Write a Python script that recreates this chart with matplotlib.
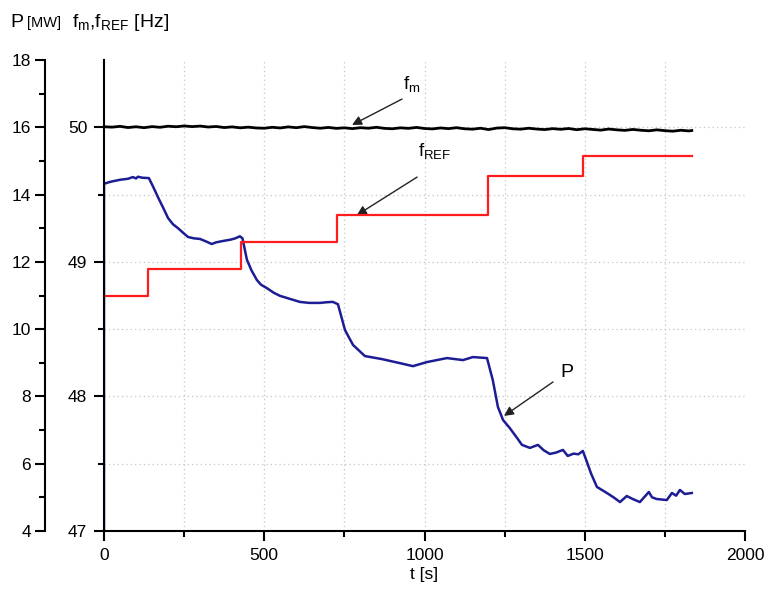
import numpy as np
import matplotlib.pyplot as plt
from matplotlib.ticker import MultipleLocator, FixedLocator

plt.rcParams['font.family'] = ['Liberation Sans', 'DejaVu Sans']
plt.rcParams['mathtext.fontset'] = 'custom'
plt.rcParams['mathtext.rm'] = 'Liberation Sans'

# --- donnees ---
# puissance P [MW]
t_P = [0, 0, 20, 50, 75, 90, 100, 106, 120, 140, 155, 168, 185, 200, 215, 231, 245,
       262, 280, 300, 320, 336, 350, 371, 395, 410, 424, 432, 446, 460, 477, 490,
       508, 530, 549, 580, 611, 640, 674, 695, 714, 730, 752, 777, 814, 867, 923,
       964, 1007, 1070, 1120, 1151, 1195, 1213, 1229, 1245, 1266, 1290, 1304, 1329,
       1354, 1372, 1391, 1410, 1432, 1447, 1465, 1480, 1494, 1505, 1520, 1538, 1569,
       1590, 1610, 1631, 1650, 1672, 1700, 1710, 1725, 1756, 1772, 1785, 1797, 1812,
       1834]
P = [4.0, 14.32, 14.38, 14.44, 14.47, 14.52, 14.48, 14.53, 14.5, 14.49, 14.2, 13.93,
     13.6, 13.3, 13.12, 13.0, 12.88, 12.74, 12.7, 12.68, 12.6, 12.53, 12.58, 12.62,
     12.66, 12.7, 12.76, 12.7, 12.06, 11.75, 11.46, 11.32, 11.22, 11.08, 10.99, 10.9,
     10.81, 10.78, 10.78, 10.8, 10.81, 10.74, 9.97, 9.53, 9.2, 9.11, 8.99, 8.9, 9.02,
     9.14, 9.08, 9.17, 9.14, 8.49, 7.69, 7.3, 7.06, 6.75, 6.56, 6.47, 6.56, 6.4, 6.29,
     6.33, 6.41, 6.23, 6.3, 6.28, 6.38, 6.1, 5.7, 5.31, 5.13, 5.0, 4.86, 5.04, 4.95,
     4.86, 5.16, 5.0, 4.95, 4.92, 5.13, 5.05, 5.22, 5.1, 5.13]

# frequence de reference f_REF [Hz]
t_ref = [0, 136, 428, 727, 1197, 1494, 1834]
f_ref = [48.75, 48.95, 49.15, 49.35, 49.64, 49.79, 49.79]

# frequence mesuree f_m [Hz]
t_fm = list(range(0, 1850, 25)) + [1834]
f_m = [50.004, 50.001, 50.007, 49.998, 50.004, 49.997, 50.005, 50.000, 50.008, 50.004,
       50.010, 50.005, 50.009, 50.002, 50.006, 49.998, 50.003, 49.996, 50.001, 49.995,
       49.993, 50.000, 49.995, 50.003, 49.997, 50.005, 49.998, 49.993, 49.999, 49.992,
       49.996, 49.990, 49.997, 49.993, 50.000, 49.992, 49.989, 49.996, 49.992, 49.999,
       49.991, 49.988, 49.995, 49.990, 49.997, 49.989, 49.986, 49.993, 49.983, 49.994,
       49.997, 49.989, 49.986, 49.993, 49.987, 49.983, 49.990, 49.985, 49.991, 49.982,
       49.989, 49.984, 49.979, 49.987, 49.981, 49.977, 49.984, 49.978, 49.974, 49.981,
       49.975, 49.971, 49.978, 49.973, 49.976]
t_fm = t_fm[:len(f_m)]

# --------------------------------------------------------------------
#       Trace
# --------------------------------------------------------------------
fig = plt.figure(figsize=(7.69, 5.94), dpi=100)
ax = fig.add_axes([104/769, 63/594, 641/769, 471/594])
ax2 = ax.twinx()

# grille pointillee
gx = np.arange(250, 2000, 250)
gy = np.arange(6, 18, 2)
ax.vlines(gx, 4, 18, colors='#c4c4c4', linestyles=(0, (1, 2.5)), lw=0.9, zorder=0)
ax.hlines(gy, 0, 2000, colors='#c4c4c4', linestyles=(0, (1, 2.5)), lw=0.9, zorder=0)

ax.plot(t_P, P, color='#1c1c94', lw=1.8)
ax2.step(t_ref, f_ref, where='post', color='#ff1c1c', lw=1.6)
ax2.plot(t_fm, f_m, color='black', lw=2.0)

ax.set_xlim(0, 2000)
ax.set_ylim(4, 18)
ax2.set_ylim(47, 50.5)

# axe P deporte a gauche (59 px = 42.5 pt)
for s in ['top', 'right']:
    ax.spines[s].set_visible(False)
ax.spines['left'].set_position(('outward', 42.5))
for s in ['top', 'right', 'bottom']:
    ax2.spines[s].set_visible(False)
ax2.spines['left'].set_visible(True)
ax2.yaxis.tick_left()
for sp in list(ax.spines.values()) + list(ax2.spines.values()):
    sp.set_linewidth(1.5)

ax.xaxis.set_major_locator(MultipleLocator(500))
ax.xaxis.set_minor_locator(MultipleLocator(250))
ax.yaxis.set_major_locator(MultipleLocator(2))
ax.yaxis.set_minor_locator(MultipleLocator(1))
ax2.yaxis.set_major_locator(FixedLocator([47, 48, 49, 50]))
ax2.yaxis.set_minor_locator(FixedLocator([47.5, 48.5, 49.5]))

ax.tick_params(axis='x', which='major', direction='out', length=7, width=1.5, pad=5, labelsize=12.5)
ax.tick_params(axis='x', which='minor', direction='out', length=4, width=1.5)
ax.tick_params(axis='y', which='major', direction='out', length=7, width=1.5, pad=3, labelsize=12.5)
ax.tick_params(axis='y', which='minor', direction='out', length=4, width=1.5)
ax2.tick_params(axis='y', which='major', direction='out', length=7, width=1.5, pad=5, labelsize=12.5)
ax2.tick_params(axis='y', which='minor', direction='out', length=4, width=1.5)

ax.set_xlabel('t [s]', fontsize=12.5, labelpad=3)

# titres des axes
fig.text(10/769, 1 - 27/594, 'P', fontsize=14, va='baseline')
fig.text(27/769, 1 - 27/594, '[MW]', fontsize=10.5, va='baseline')
fig.text(72/769, 1 - 27/594, r'f$_\mathrm{m}$,f$_\mathrm{REF}$ [Hz]', fontsize=14, va='baseline')

# fleches et etiquettes
arr = dict(arrowstyle='-|>', color='#222222', lw=1.0, mutation_scale=14, shrinkA=0, shrinkB=0)
ax.annotate('', xy=(774, 16.07), xytext=(930, 16.84), arrowprops=arr)
ax.text(933, 17.11, r'f$_\mathrm{m}$', fontsize=13.5, va='baseline')
ax.annotate('', xy=(789, 13.39), xytext=(977, 14.52), arrowprops=arr)
ax.text(980, 15.12, r'f$_\mathrm{REF}$', fontsize=13.5, va='baseline')
ax.annotate('', xy=(1248, 7.42), xytext=(1401, 8.43), arrowprops=arr)
ax.text(1423, 8.58, 'P', fontsize=14, va='baseline')

plt.savefig('out.png', dpi=100)
